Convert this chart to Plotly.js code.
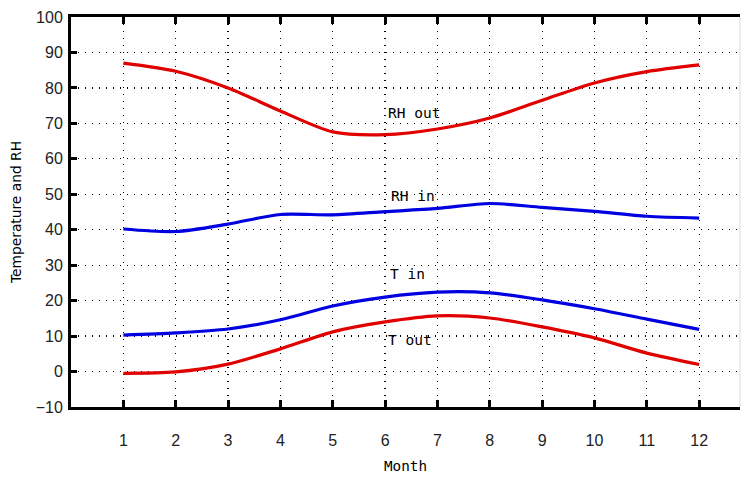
<!DOCTYPE html>
<html>
<head>
<meta charset="utf-8">
<script src="https://cdn.plot.ly/plotly-3.0.1.min.js"></script>
<style>html,body{margin:0;padding:0;background:#fff;}#chart{width:741px;height:477px;}</style>
</head>
<body>
<div id="chart"></div>
<script>
var months = [1,2,3,4,5,6,7,8,9,10,11,12];
var rhOut = [87, 84.7, 80, 73.5, 67.6, 66.8, 68.4, 71.5, 76.5, 81.4, 84.6, 86.5];
var rhIn  = [40.2, 39.5, 41.6, 44.3, 44.2, 45.1, 46, 47.4, 46.3, 45.2, 43.8, 43.3];
var tIn   = [10.3, 10.9, 12, 14.6, 18.5, 21, 22.4, 22.2, 20.2, 17.7, 14.8, 11.9];
var tOut  = [-0.5, -0.1, 2.1, 6.4, 11.2, 14, 15.7, 15.1, 12.6, 9.5, 5.2, 2];
var labels = ["RH out", "RH in", "T in", "T out"];
var labelX = [6.56, 6.53, 6.43, 6.48];
var labelY = [72.9, 49.5, 27.5, 9.0];

var red = "#e00000", blue = "#0000e0";
function tr(y, c){ return {x: months, y: y, mode: "lines", line: {color: c, width: 3.2, shape: "spline", smoothing: 0.8}, hoverinfo: "none", showlegend: false}; }
var data = [tr(rhOut, red), tr(rhIn, blue), tr(tIn, blue), tr(tOut, red)];

var annotations = labels.map(function(t, i){
  return {x: labelX[i], y: labelY[i], text: t, showarrow: false, font: {family: "DejaVu Sans Mono", size: 14.5, color: "#000"}};
});

var layout = {
  width: 741, height: 477,
  margin: {l: 71, r: 1, t: 17, b: 70},
  paper_bgcolor: "#fff", plot_bgcolor: "#fff",
  showlegend: false,
  xaxis: {
    range: [0, 12.78], tickvals: months, ticktext: months.map(String),
    showgrid: true, gridcolor: "#000", gridwidth: 1.2, griddash: "1px,6px",
    zeroline: false, showline: true, linecolor: "#000", linewidth: 3, mirror: "ticks",
    ticks: "inside", ticklen: 7, tickwidth: 3, tickcolor: "#000",
    ticklabelstandoff: 17,
    tickfont: {family: "Liberation Sans", size: 16, color: "#222"},
    title: {text: "Month", font: {family: "DejaVu Sans Mono", size: 14.3, color: "#000"}, standoff: 13}
  },
  yaxis: {
    range: [-10, 100], dtick: 10, tick0: 0,
    showgrid: true, gridcolor: "#000", gridwidth: 1.2, griddash: "1px,6px",
    zeroline: false, showline: true, linecolor: "#000", linewidth: 3,
    ticks: "inside", ticklen: 6, tickwidth: 3, tickcolor: "#000",
    ticklabelstandoff: 2,
    tickfont: {family: "Liberation Sans", size: 16, color: "#222"},
    title: {text: "Temperature and RH", font: {family: "DejaVu Sans", size: 13.8, color: "#000"}, standoff: 11}
  },
  shapes: [{type: "line", xref: "paper", yref: "paper", x0: 1, x1: 1, y0: 0, y1: 1, line: {color: "#d8d8d8", width: 1}}],
  annotations: annotations
};
Plotly.newPlot("chart", data, layout, {staticPlot: true, displayModeBar: false});
</script>
</body>
</html>
